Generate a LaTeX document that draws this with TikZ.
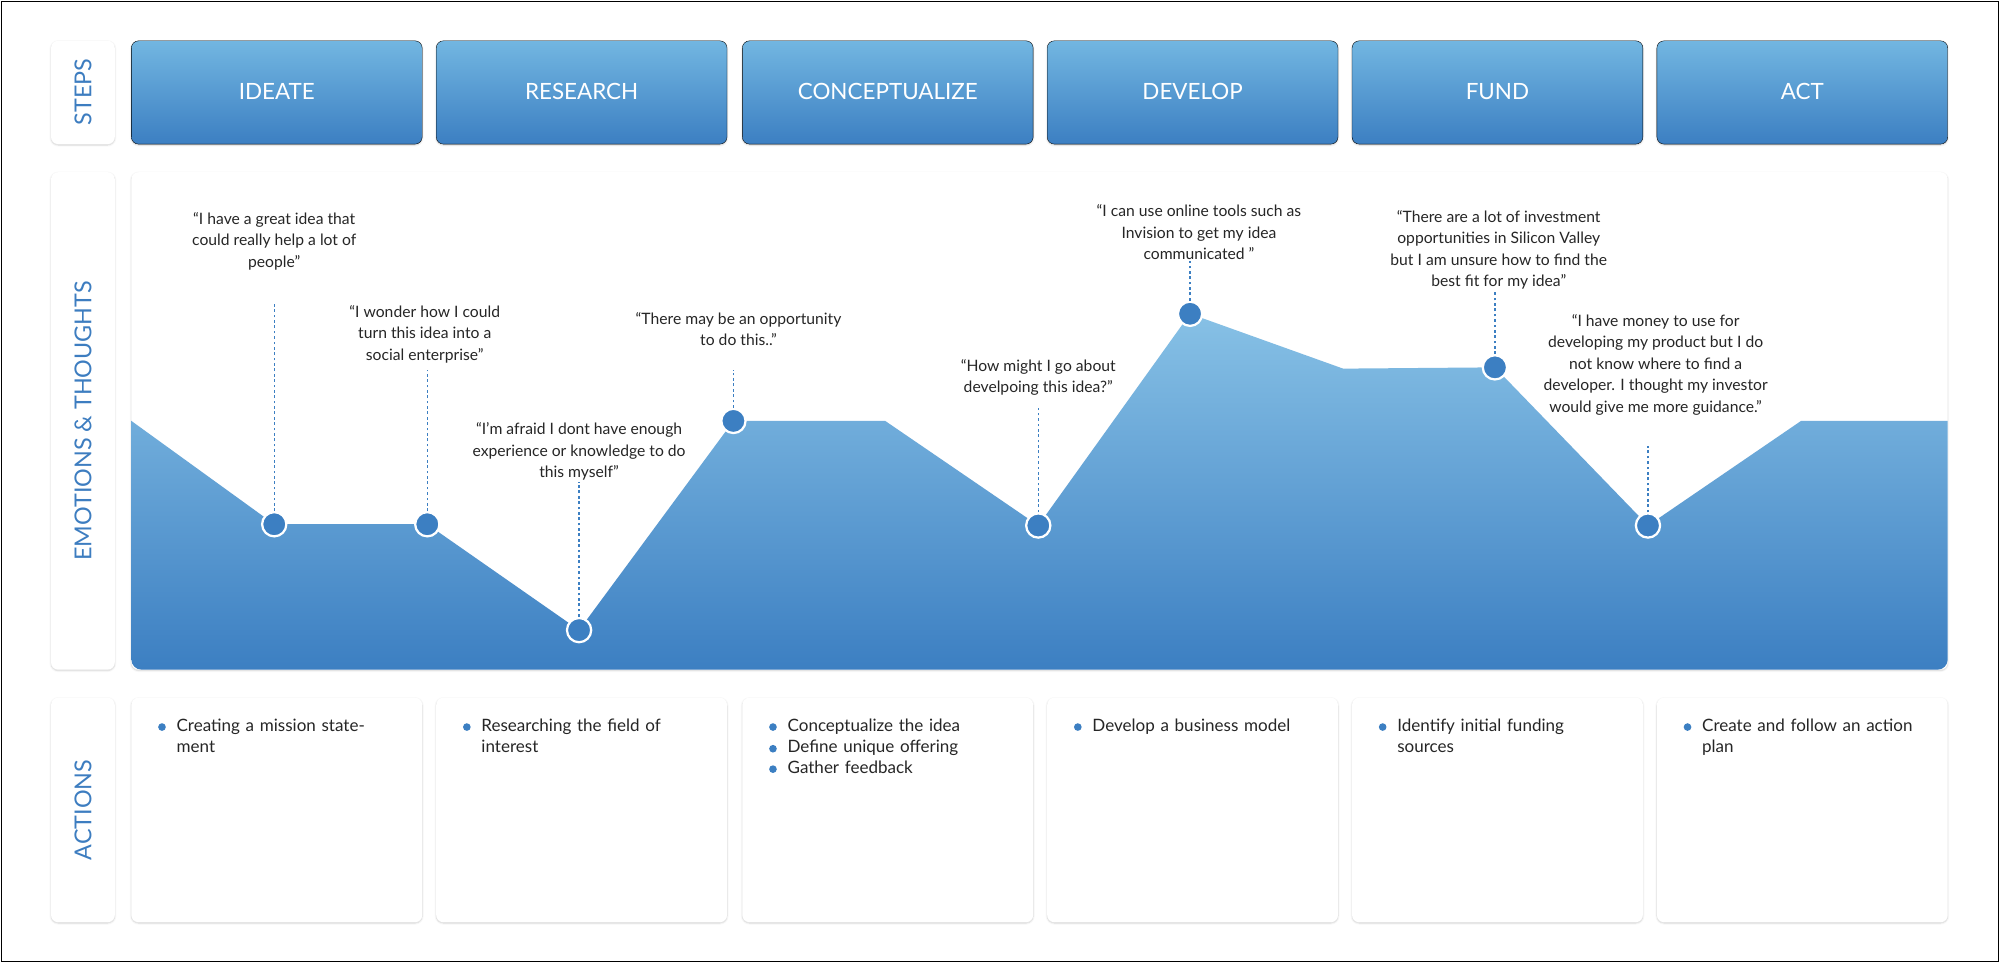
\documentclass[tikz,border=0pt]{standalone}
\usepackage{fontspec}
\setmainfont{Lato}
\usetikzlibrary{positioning}
\usetikzlibrary{shadows.blur}
\definecolor{lightblue}{HTML}{72B6E1}
\definecolor{deepblue}{HTML}{3C7FC2}
\definecolor{labelblue}{HTML}{3D7DC0}
\tikzset{
  card/.style={draw=none,fill=white,rounded corners=8pt,blur shadow={shadow blur steps=6,shadow xshift=0pt,shadow yshift=-1pt,shadow opacity=18}},
  stepbox/.style={rounded corners=8pt,top color=lightblue,bottom color=deepblue,blur shadow={shadow blur steps=6,shadow xshift=0pt,shadow yshift=-1pt,shadow opacity=18}},
  side/.style={rotate=90,text=labelblue,font=\fontsize{26}{28}\selectfont},
  dot/.style={circle,fill=deepblue,draw=white,line width=2.5pt,inner sep=0pt,minimum size=0.95cm},
  quote/.style={align=center,font=\fontsize{17.5}{24}\selectfont,text=black!85},
  act/.style={anchor=north west,align=left,text width=8.4cm,font=\fontsize{19}{24}\selectfont,text=black!85},
  bullet/.style={circle,fill=deepblue,inner sep=0pt,minimum size=0.3cm}
}
\begin{document}
\begin{tikzpicture}[x=0.05cm,y=-0.05cm]
\useasboundingbox (0,0) rectangle (1568,755);
\draw[line width=1pt] (1,1) rectangle (1567,754);
% side labels
\draw[card] (40,32) rectangle (90,113);
\draw[card] (40,135) rectangle (90,525);
\draw[card] (40,547) rectangle (90,723);
\node[side] (stepslbl) at (65,72) {STEPS};
\node[side] (emolbl) at (65,330) {EMOTIONS \& THOUGHTS};
\node[side] (actlbl) at (65,635) {ACTIONS};
% steps and actions
\foreach \x/\name in {103/IDEATE,342/RESEARCH,582/CONCEPTUALIZE,821/DEVELOP,1060/FUND,1299/ACT}{
  \draw[stepbox] (\x,32) rectangle ++(228,81);
  \node[text=white,font=\fontsize{25}{28}\selectfont] at (\x+114,72) {\name};
  \draw[card] (\x,547) rectangle ++(228,176);
}
% emotions panel
\draw[card] (103,135) rectangle (1527,525);
\shade[top color=lightblue!85,bottom color=deepblue,rounded corners=0pt]
  (103,330) -- (215,411) -- (335,411) -- (454,494) -- (575,330) -- (694,330) -- (814,412)
  -- (933,246) -- (1053,289) -- (1172,288) -- (1292,412) -- (1412,330) -- (1527,330)
  -- (1527,517) arc (0:90:8) -- (111,525) arc (90:180:8) -- cycle;
\foreach \i/\x/\y/\t in {1/215/411/238,2/335/411/290,3/454/494/378,4/575/330/290,
    5/814/412/320,6/933/246/205,7/1172/288/228,8/1292/412/350}{
  \coordinate (q\i) at (\x,\t);
  \node[dot] (p\i) at (\x,\y) {};
  \draw[deepblue,dashed,line width=1.5pt] (p\i) -- (q\i);
}
% quotes
\node[quote] (t1) at (215,189) {“I have a great idea that\\could really help a lot of\\people”};
\node[quote] (t2) at (333,262) {“I wonder how I could\\turn this idea into a\\social enterprise”};
\node[quote] (t3) at (454,354) {“I'm afraid I dont have enough\\experience or knowledge to do\\this myself”};
\node[quote] (t4) at (579,258) {“There may be an opportunity\\to do this..”};
\node[quote] (t5) at (814,296) {“How might I go about\\develpoing this idea?”};
\node[quote] (t6) at (940,182) {“I can use online tools such as\\Invision to get my idea\\communicated ”};
\node[quote] (t7) at (1175,196) {“There are a lot of investment\\opportunities in Silicon Valley\\but I am unsure how to find the\\best fit for my idea”};
\node[quote] (t8) at (1298,286) {“I have money to use for\\developing my product but I do\\not know where to find a\\developer. I thought my investor\\would give me more guidance.”};
% actions
\foreach \x/\y/\t in {103/570/Creating a mission statement,342/570/Researching the field of\\interest,
    582/570/Conceptualize the idea,582/587/Define unique offering,582/603/Gather feedback,
    821/570/Develop a business model,1060/570/Identify initial funding sources,1299/570/Create and follow an action\\plan}{
  \node[bullet] at (\x+24,\y) {};
  \node[act] at (\x+33,\y-9) {\t};
}
\end{tikzpicture}
\end{document}
